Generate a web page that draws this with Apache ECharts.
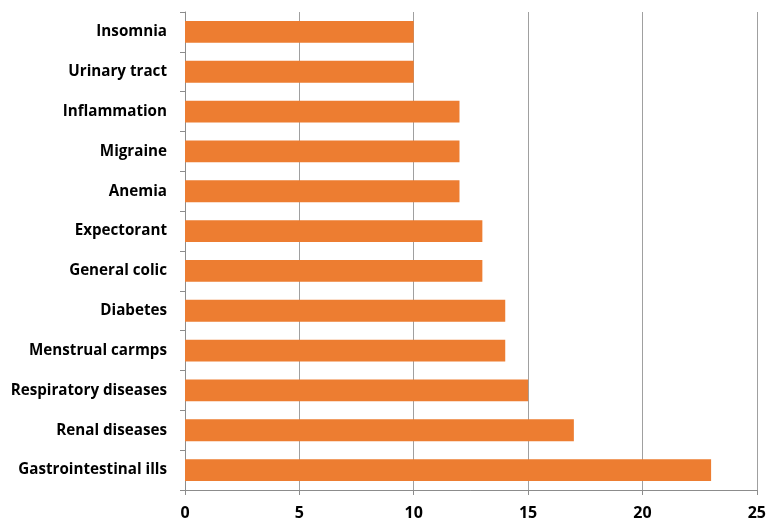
<!DOCTYPE html>
<html><head><meta charset="utf-8">
<script src="https://cdn.jsdelivr.net/npm/echarts@6/dist/echarts.min.js"></script>
<style>html,body{margin:0;padding:0;background:#fff}#c{width:769px;height:521px}</style>
</head><body><div id="c"></div>
<script>
const categories = ["Gastrointestinal ills","Renal diseases","Respiratory diseases","Menstrual carmps","Diabetes","General colic","Expectorant","Anemia","Migraine","Inflammation","Urinary tract","Insomnia"];
const values = [23,17,15,14,14,13,13,12,12,12,10,10];
const xTicks = [0,5,10,15,20,25];

const chart = echarts.init(document.getElementById('c'));
const font = '"Open Sans", "Liberation Sans", sans-serif';
chart.setOption({
  animation: false,
  grid: {left: 185, right: 11, top: 12, bottom: 31, containLabel: false},
  xAxis: {
    type: 'value', min: xTicks[0], max: xTicks[xTicks.length-1], interval: 5,
    axisLine: {show: true, lineStyle: {color: '#8c8c8c', width: 1}},
    axisTick: {show: true, length: 5, lineStyle: {color: '#8c8c8c'}},
    splitLine: {show: true, lineStyle: {color: '#a0a0a0', width: 1}},
    axisLabel: {color: '#000', fontWeight: 'bold', fontSize: 16, fontFamily: font, margin: 15}
  },
  yAxis: {
    type: 'category', data: categories,
    axisLine: {show: true, lineStyle: {color: '#8c8c8c', width: 1}},
    axisTick: {show: true, length: 5, lineStyle: {color: '#8c8c8c'}},
    axisLabel: {color: '#000', fontWeight: 'bold', fontSize: 15.2, fontFamily: font, margin: 18}
  },
  series: [{
    type: 'bar', data: values, barCategoryGap: '45%',
    itemStyle: {color: '#ED7D31'}
  }]
});
</script></body></html>
